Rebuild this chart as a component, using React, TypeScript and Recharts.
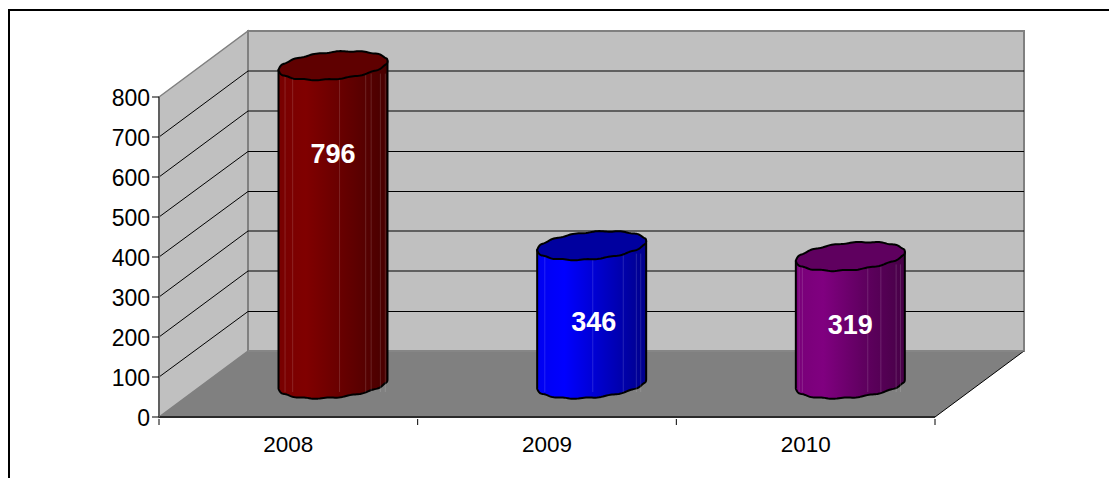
import { BarChart, Bar, XAxis, YAxis, CartesianGrid, ReferenceArea, LabelList } from 'recharts';

const years = ['2008', '2009', '2010'];
const counts = [796, 346, 319];
const yTicks = [0, 100, 200, 300, 400, 500, 600, 700, 800];

// side gradient stops (left, lit, mid, right) and the cap colour of each cylinder
const sideColors = [
  ['#780000', '#800000', '#640000', '#470000'],
  ['#0000f0', '#0000ff', '#0000c4', '#00008a'],
  ['#780078', '#800080', '#600060', '#470047'],
];
const capColors = ['#5f0000', '#00009f', '#5f005f'];
// where the lighter vertical seams sit, as a share of the bar width
const seams = [
  [0.06, 0.13, 0.56, 0.8, 0.85, 0.935, 0.98],
  [0.07, 0.51, 0.79, 0.91, 0.95],
  [0.03, 0.06, 0.66, 0.78, 0.92, 0.96],
];
const labelNudgeX = [0, 2, 0];
const labelNudgeY = [-71, 7, 5];
// these grid rows land on a whole pixel and draw solid black, the others go soft
const sharpRows = [500, 400, 100];

const chartWidth = 1099;
const chartHeight = 467;
const yAxisWidth = 60;
const xAxisHeight = 30;
const margin = { top: 86, right: 174, bottom: 31, left: 89 };
const plotBottom = chartHeight - margin.bottom - xAxisHeight;
const plotHeight = plotBottom - margin.top;
const bandWidth = (chartWidth - margin.left - yAxisWidth - margin.right) / years.length;

// how far the back wall sits behind the front plane
const depthX = 89;
const depthY = 66;

const fontFamily = '"Liberation Sans", Arial, sans-serif';

const Walls = ({ x, y, width, height }: any) => {
  const bottom = y + height;
  const right = x + width;
  return (
    <g>
      <polygon
        points={`${x},${y} ${x + depthX},${y - depthY} ${x + depthX},${bottom - depthY} ${x},${bottom}`}
        fill="#c0c0c0"
        stroke="#808080"
        strokeWidth={1.5}
      />
      <rect x={x + depthX} y={y - depthY} width={width} height={height} fill="#c0c0c0" stroke="#808080" strokeWidth={2} />
      <polygon
        points={`${x},${bottom} ${right},${bottom} ${right + depthX},${bottom - depthY} ${x + depthX},${bottom - depthY}`}
        fill="#808080"
      />
      <line x1={right} y1={bottom} x2={right + depthX} y2={bottom - depthY} stroke="#000" strokeWidth={1} />
      <line x1={x + depthX} y1={bottom - depthY} x2={right + depthX} y2={bottom - depthY} stroke="#8c8c8c" strokeWidth={1} />
    </g>
  );
};

// one grid value runs along the side wall and then across the back wall
const WallGridLine = ({ x1, x2, y1 }: any) => {
  if (y1 >= plotBottom - 1 || y1 <= margin.top + 1) return <g />;
  const value = Math.round(((plotBottom - y1) / plotHeight) * 800);
  const backY = y1 - depthY + (sharpRows.includes(value) ? 0.5 : 0);
  return (
    <g>
      <line x1={x1} y1={y1} x2={x1 + depthX} y2={backY} stroke="#000" strokeWidth={1} />
      <line x1={x1 + depthX} y1={backY} x2={x2 + depthX} y2={backY} stroke="#000" strokeWidth={1} />
    </g>
  );
};

const rimPoint = (cx: number, cy: number, rx: number, theta: number) => {
  const ry = 13.6;
  const tilt = 4.5;
  const px = cx + rx * Math.cos(theta);
  const py = cy + ry * Math.sin(theta) - tilt * Math.cos(theta) + 0.45 * Math.sin(14 * theta);
  return `${px.toFixed(2)} ${py.toFixed(2)}`;
};

const Cylinder = ({ x, y, width, height, index }: any) => {
  const cx = x + width / 2 + depthX / 2;
  const rx = width / 2;
  const topY = y - depthY / 2;
  const bottomY = y + height - depthY / 2;
  const steps = 90;
  const lowerRim = [];
  for (let i = 0; i <= steps; i++) {
    lowerRim.push(rimPoint(cx, bottomY, rx, Math.PI - (Math.PI * i) / steps));
  }
  const cap = [];
  for (let i = 0; i < steps * 2; i++) {
    cap.push(rimPoint(cx, topY, rx, (Math.PI * i) / steps));
  }
  const gradientId = `cylinder-side-${index}`;
  const stops = sideColors[index];
  return (
    <g>
      <defs>
        <linearGradient id={gradientId} x1="0" y1="0" x2="1" y2="0">
          <stop offset="0" stopColor={stops[0]} />
          <stop offset="0.25" stopColor={stops[1]} />
          <stop offset="0.62" stopColor={stops[2]} />
          <stop offset="1" stopColor={stops[3]} />
        </linearGradient>
      </defs>
      <path
        d={`M ${rimPoint(cx, topY, rx, Math.PI)} L ${lowerRim.join(' L ')} L ${rimPoint(cx, topY, rx, 0)} Z`}
        fill={`url(#${gradientId})`}
        stroke="#000"
        strokeWidth={2}
        strokeLinejoin="round"
      />
      {seams[index].map((share) => (
        <line
          key={share}
          x1={cx - rx + share * width}
          x2={cx - rx + share * width}
          y1={topY + 8}
          y2={bottomY + 8}
          stroke="#fff"
          strokeOpacity={0.14}
          strokeWidth={1}
        />
      ))}
      <path d={`M ${cap.join(' L ')} Z`} fill={capColors[index]} stroke="#000" strokeWidth={2} strokeLinejoin="round" />
    </g>
  );
};

const ValueLabel = ({ x, y, width, height, value, index }: any) => (
  <text
    x={x + width / 2 + depthX / 2 + labelNudgeX[index]}
    y={y + height / 2 - depthY / 2 + labelNudgeY[index]}
    textAnchor="middle"
    dominantBaseline="central"
    fill="#fff"
    fontFamily={fontFamily}
    fontWeight="bold"
    fontSize={27}
  >
    {value}
  </text>
);

// category ticks sit on the band edges, the label stays in the middle
const YearTick = ({ x, y, payload, index }: any) => (
  <g>
    <line x1={x - bandWidth / 2} x2={x - bandWidth / 2} y1={y} y2={y + 6} stroke="#000" />
    {index === years.length - 1 && <line x1={x + bandWidth / 2} x2={x + bandWidth / 2} y1={y} y2={y + 6} stroke="#000" />}
    <text x={x} y={y + 33} textAnchor="middle" fill="#000" fontFamily={fontFamily} fontSize={22.5}>
      {payload.value}
    </text>
  </g>
);

const rows = years.map((year, i) => ({ year, count: counts[i] }));

const App = () => (
  <div
    style={{
      position: 'absolute',
      left: 8,
      top: 9,
      width: 1101,
      height: 469,
      boxSizing: 'border-box',
      borderLeft: '2px solid #000',
      borderTop: '2px solid #000',
      background: '#fff',
    }}
  >
    <BarChart width={chartWidth} height={chartHeight} data={rows} margin={margin}>
      <ReferenceArea y1={0} y2={800} shape={<Walls />} ifOverflow="visible" zIndex={-200} />
      <CartesianGrid vertical={false} horizontal={(props: any) => <WallGridLine key={props.key} {...props} />} />
      <XAxis
        dataKey="year"
        height={xAxisHeight}
        axisLine={{ stroke: '#2a2a2a', strokeWidth: 2 }}
        tickLine={false}
        tickSize={0}
        tick={<YearTick />}
        interval={0}
      />
      <YAxis
        width={yAxisWidth}
        domain={[0, 800]}
        ticks={yTicks}
        interval={0}
        axisLine={{ stroke: '#606060', strokeWidth: 2 }}
        tickLine={{ stroke: '#000' }}
        tickSize={7}
        tickMargin={2}
        tick={{ fill: '#000', fontFamily, fontSize: 23, dy: 1 }}
      />
      <Bar dataKey="count" barSize={109} shape={<Cylinder />} isAnimationActive={false}>
        <LabelList dataKey="count" content={<ValueLabel />} />
      </Bar>
    </BarChart>
  </div>
);

export default App;
